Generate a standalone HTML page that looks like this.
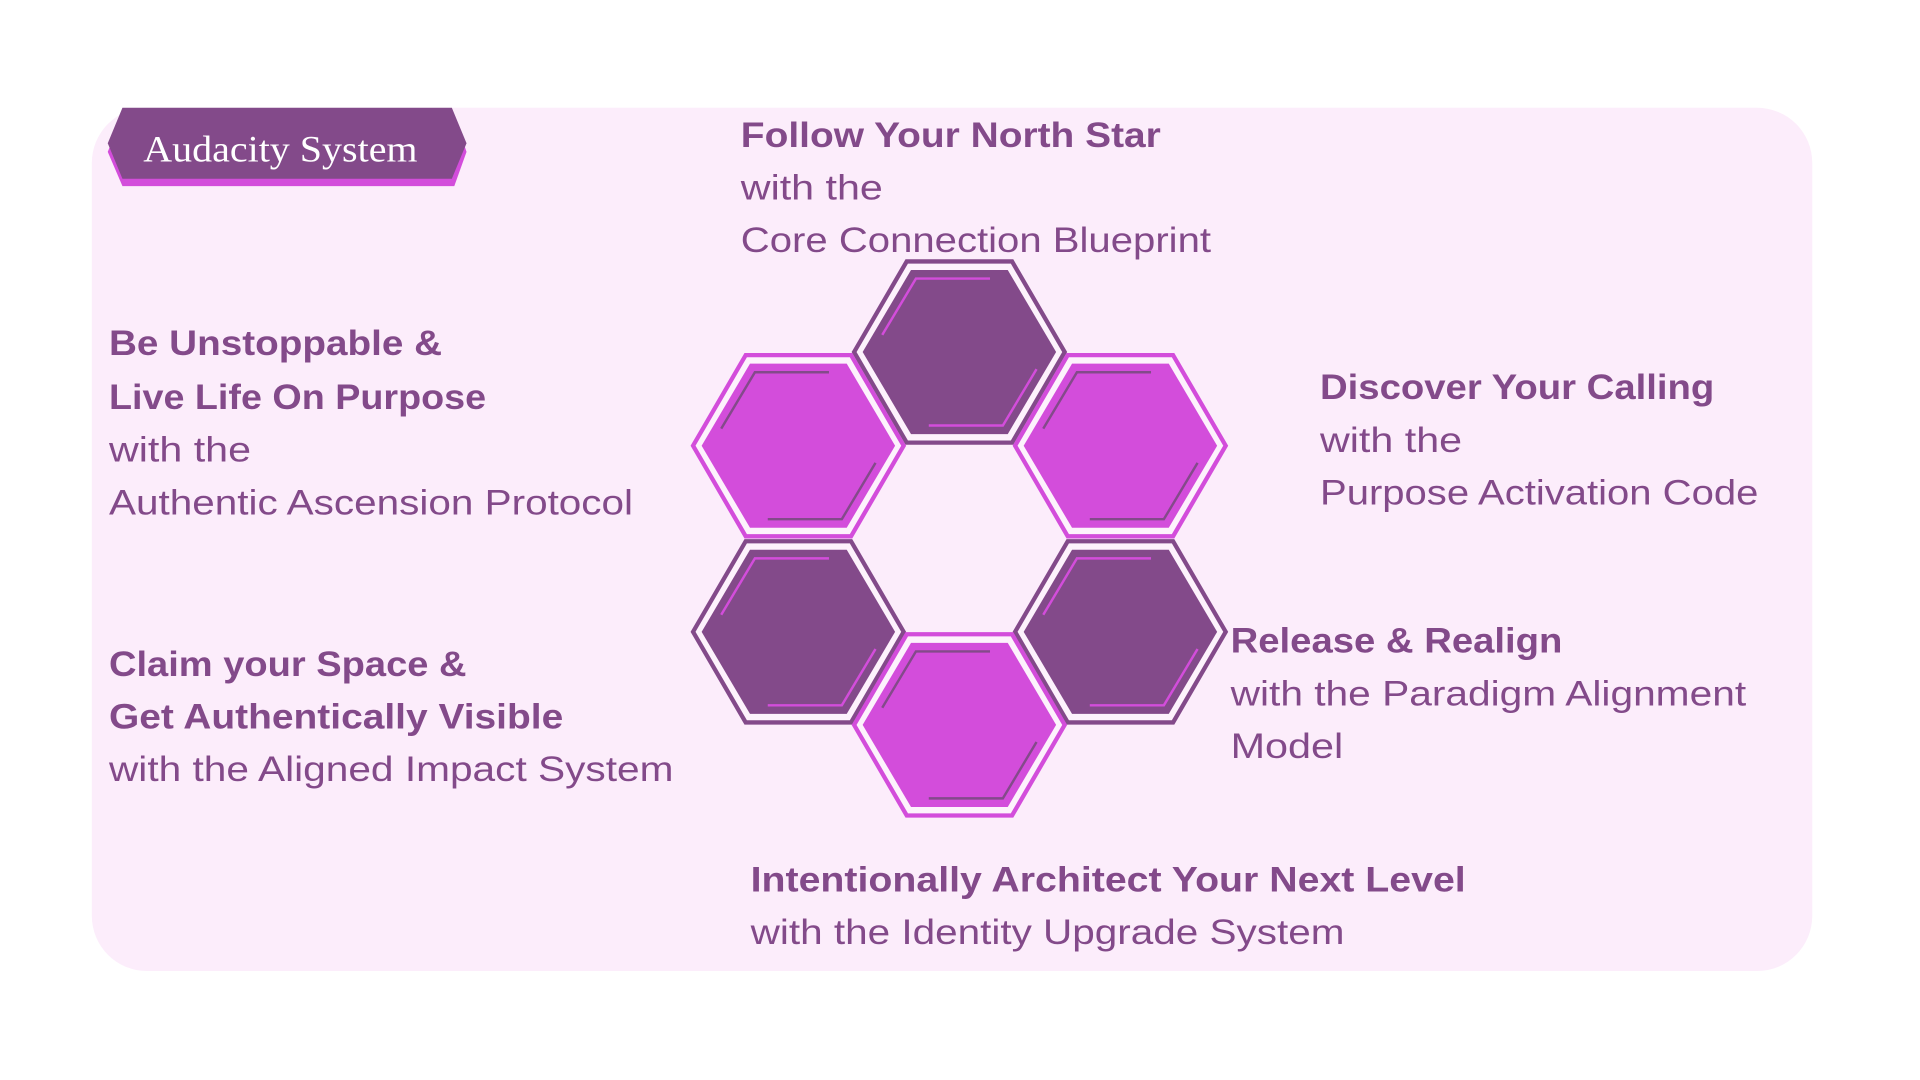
<!DOCTYPE html>
<html><head><meta charset="utf-8"><style>
html,body{margin:0;padding:0;background:#fff;width:1920px;height:1080px;overflow:hidden}
svg{display:block}
.b{font-family:"Liberation Sans",sans-serif;font-weight:bold;font-size:29px;fill:#834a8a}
.r{font-family:"Liberation Sans",sans-serif;font-size:29px;fill:#834a8a}
</style></head><body>
<svg width="1920" height="1080" viewBox="0 0 1568 882" xmlns="http://www.w3.org/2000/svg">
<rect x="75" y="88" width="1405" height="705" rx="45" fill="#fcedfb"/>
<polygon points="100,94 371,94 381,124 371,152 100,152 88,124" fill="#d34ddb"/>
<polygon points="100,88 369,88 381,117 369,146 100,146 88,117" fill="#834a8a"/>
<text x="117" y="132" font-family="Liberation Serif,serif" font-size="30" fill="#fff" textLength="224" lengthAdjust="spacingAndGlyphs">Audacity System</text>
<g id="hexes"></g>
<g id="txt"></g>
</svg>
<script>
const D="#834a8a",M="#d34ddb";
const hx=[[783.5,287.5,D],[652,364,M],[915,364,M],[652,516,D],[915,516,D],[783.5,592,M]];
function pts(cx,cy,R,h){return [[cx-R,cy],[cx-R/2,cy-h],[cx+R/2,cy-h],[cx+R,cy],[cx+R/2,cy+h],[cx-R/2,cy+h]];}
function ps(a){return a.map(p=>p.join(',')).join(' ');}
let s='';
for(const [cx,cy,c] of hx){
 const o=c, acc=c===D?M:D;
 s+=`<polygon points="${ps(pts(cx,cy,86,74))}" fill="#fdf2fc" stroke="${o}" stroke-width="3.5"/>`;
 s+=`<polygon points="${ps(pts(cx,cy,79,67))}" fill="${c}"/>`;
 const p=pts(cx,cy,71,60);
 s+=`<polyline points="${cx-63},${cy-14} ${p[1].join(',')} ${cx+25},${cy-60}" fill="none" stroke="${acc}" stroke-width="2"/>`;
 s+=`<polyline points="${cx+63},${cy+14} ${p[4].join(',')} ${cx-25},${cy+60}" fill="none" stroke="${acc}" stroke-width="2"/>`;
}
document.getElementById('hexes').innerHTML=s;
const T=[
['b',605,120,343,'Follow Your North Star'],
['r',605,163,116,'with the'],
['r',605,206,384,'Core Connection Blueprint'],
['b',89,290,272,'Be Unstoppable &amp;'],
['b',89,334,308,'Live Life On Purpose'],
['r',89,377,116,'with the'],
['r',89,420,428,'Authentic Ascension Protocol'],
['b',1078,326,322,'Discover Your Calling'],
['r',1078,369,116,'with the'],
['r',1078,412,358,'Purpose Activation Code'],
['b',89,552,292,'Claim your Space &amp;'],
['b',89,595,371,'Get Authentically Visible'],
['r',89,638,461,'with the Aligned Impact System'],
['b',1005,533,271,'Release &amp; Realign'],
['r',1005,576,421,'with the Paradigm Alignment'],
['r',1005,619,92,'Model'],
['b',613,728,584,'Intentionally Architect Your Next Level'],
['r',613,771,485,'with the Identity Upgrade System']];
let t='';
for(const [c,x,y,w,str] of T) t+=`<text class="${c}" x="${x}" y="${y}" textLength="${w}" lengthAdjust="spacingAndGlyphs">${str}</text>`;
document.getElementById('txt').innerHTML=t;
</script>
</body></html>
